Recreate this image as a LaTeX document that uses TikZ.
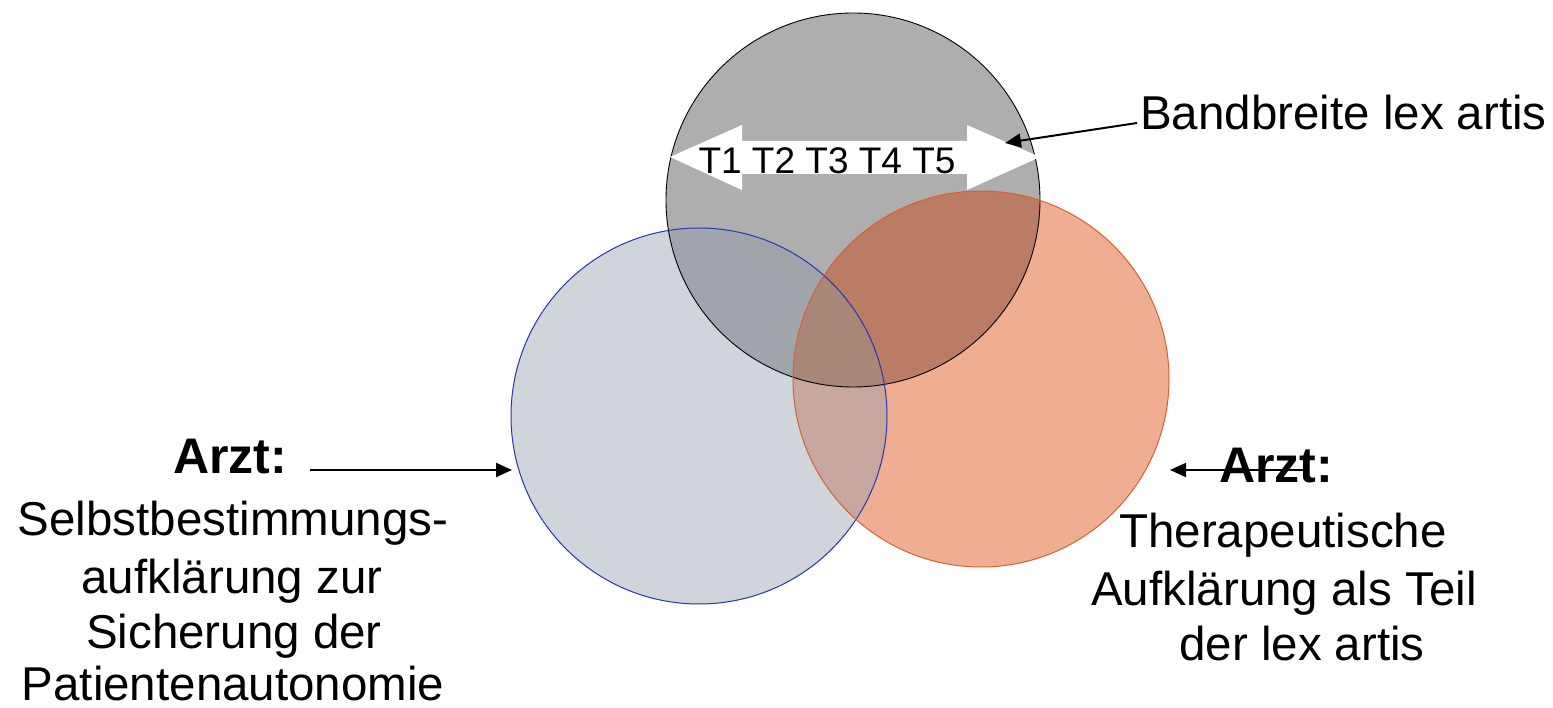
\documentclass[tikz,border=0pt]{standalone}
\usepackage{fontspec}
\setmainfont{Liberation Sans}
\usetikzlibrary{arrows.meta}

% region colours of the three overlapping discs
\definecolor{cG}{RGB}{174,174,174}
\definecolor{cB}{RGB}{208,213,219}
\definecolor{cO}{RGB}{239,174,146}
\definecolor{cGB}{RGB}{160,165,172}
\definecolor{cGO}{RGB}{186,124,100}
\definecolor{cBO}{RGB}{200,168,158}
\definecolor{cGBO}{RGB}{168,134,120}
\definecolor{edgeB}{RGB}{35,55,175}
\definecolor{edgeO}{RGB}{215,95,50}

\tikzset{
  txt/.style={inner sep=0pt, anchor=base, font=\fontsize{47.5}{57}\selectfont},
  head/.style={inner sep=0pt, anchor=base, font=\fontsize{50}{60}\selectfont\bfseries},
  pointer/.style={line width=2pt, -{Triangle[length=16pt,width=14pt]}},
}

\begin{document}
\begin{tikzpicture}[x=1pt,y=-1pt]
\useasboundingbox (0,0) rectangle (1553,708);

\coordinate (cTop) at (853,200);
\coordinate (cLeft) at (699,416);
\coordinate (cRight) at (981,379);
\def\rTop{187}
\def\rSide{188}

% base fills
\fill[cG] (cTop) circle[radius=\rTop];
\fill[cB] (cLeft) circle[radius=\rSide];
\fill[cO] (cRight) circle[radius=\rSide];

% overlaps
\begin{scope}
  \clip (cTop) circle[radius=\rTop];
  \fill[cGB] (cLeft) circle[radius=\rSide];
  \fill[cGO] (cRight) circle[radius=\rSide];
\end{scope}
\begin{scope}
  \clip (cLeft) circle[radius=\rSide];
  \fill[cBO] (cRight) circle[radius=\rSide];
  \clip (cTop) circle[radius=\rTop];
  \fill[cGBO] (cRight) circle[radius=\rSide];
\end{scope}

% outlines
\draw[black, line width=0.9pt] (cTop) circle[radius=\rTop];
\draw[edgeB, line width=1pt] (cLeft) circle[radius=\rSide];
\draw[edgeO, line width=1pt] (cRight) circle[radius=\rSide];

% white double arrow across the top disc
\fill[white] (670,157) -- (742,125) -- (742,141) -- (967,141) -- (967,125)
  -- (1040,157) -- (967,190) -- (967,174) -- (742,174) -- (742,190) -- cycle;
\node[inner sep=0pt, anchor=base, font=\fontsize{37}{44}\selectfont] (tlist) at (827,174) {T1 T2 T3 T4 T5};

% label of the top disc
\node[txt, anchor=base west] (band) at (1140,130) {Bandbreite lex artis};
\coordinate (bandFrom) at (1137,123);
\coordinate (bandTip) at (1005,143);
\draw[pointer] (bandFrom) -- (bandTip);

% left label
\node[head] (arztL) at (230,473) {Arzt:};
\node[txt] (l1) at (233,535) {Selbstbestimmungs-};
\node[txt] (l2) at (232,593) {aufklärung zur};
\node[txt] (l3) at (234,648) {Sicherung der};
\node[txt] (l4) at (233,700) {Patientenautonomie};
\coordinate (lFrom) at (310,470);
\coordinate (lTip) at (512,470);
\draw[pointer] (lFrom) -- (lTip);

% right label
\node[head] (arztR) at (1276,482) {Arzt:};
\node[txt] (r1) at (1283,547) {Therapeutische};
\node[txt] (r2) at (1284,605) {Aufklärung als Teil};
\node[txt] (r3) at (1302,660) {der lex artis};
\coordinate (rFrom) at (1307,470);
\coordinate (rTip) at (1170,470);
\draw[pointer] (rFrom) -- (rTip);
\end{tikzpicture}
\end{document}
